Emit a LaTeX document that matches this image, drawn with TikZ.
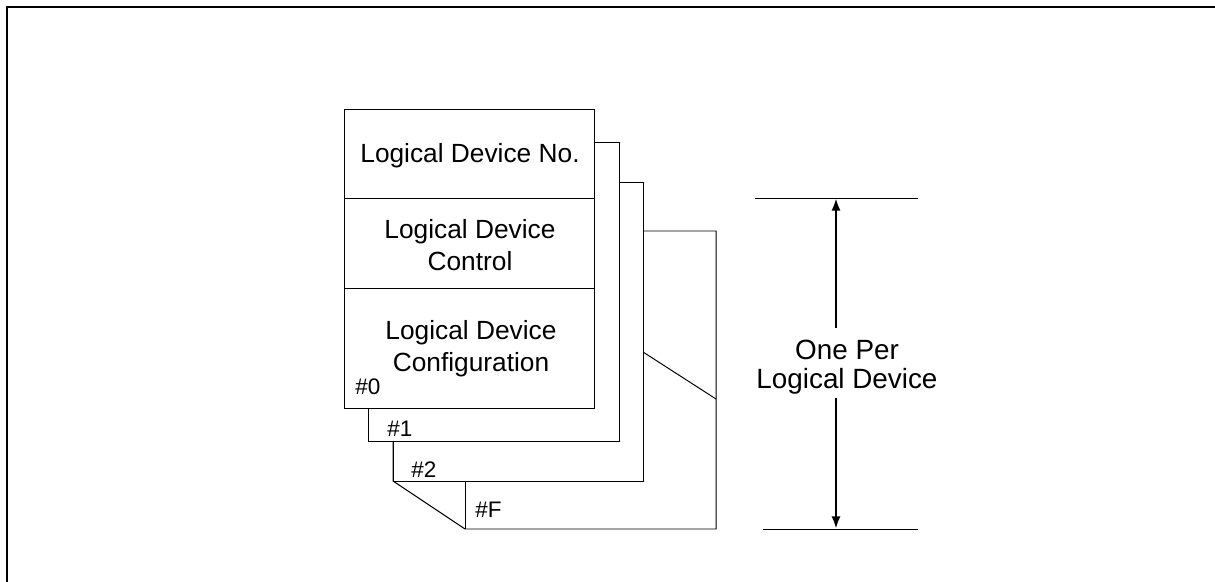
\documentclass[tikz,border=0pt]{standalone}
\usepackage{fontspec}
\setmainfont{Liberation Sans}
\usetikzlibrary{calc,arrows.meta}

\begin{document}
\begin{tikzpicture}[>={Latex[length=9pt,width=6.5pt]}, x=0.025cm, y=-0.025cm,
	card/.style={draw, fill=white, line width=0.7pt},
	big/.style={font=\fontsize{18.7}{22.8}\selectfont, align=center, inner sep=0pt},
	tag/.style={font=\fontsize{16}{18}\selectfont, anchor=base west, inner sep=0pt}]

	% fix the size of the picture
	\useasboundingbox (0,0) rectangle (1215,582);
	% outer frame, cut by the page edge
	\draw[line width=1.4pt] (1240,7) -- (7,7) -- (7,600);

	% last card, with its folded corner
	\coordinate (Ftl) at (393,231);
	\coordinate (Ftr) at (716,231);
	\coordinate (Fbr) at (716,529);
	\coordinate (Fbl) at (465,529);
	\coordinate (Ffold) at (393,481);
	\draw[card] (Ftl) -- (Ftr) -- (Fbr) -- (Fbl) -- (Ffold) -- cycle;
	\draw[line width=0.7pt] (Ffold) -- (465,481) -- (Fbl);
	\draw[line width=0.7pt] (643,352) -- (716,399);

	% cards #2 and #1
	\draw[card] (393,182) rectangle (643,481);
	\draw[card] (368,142) rectangle (619,441);

	% front card #0 and its three fields
	\coordinate (A) at (344,109);
	\coordinate (B) at (594,408);
	\draw[card] (A) rectangle (B);
	\draw[line width=0.7pt] (344,198) -- (594,198) (344,288) -- (594,288);
	\node[big] (no) at (470,156) {Logical Device No.};
	\node[big] (ctrl) at (470,245) {Logical Device\\Control};
	\node[big] (conf) at (471,349) {Logical Device\\Configuration};

	% card numbers
	\node[tag] (n0) at (355,395) {\#0};
	\node[tag] (n1) at (387,437) {\#1};
	\node[tag] (n2) at (411,477) {\#2};
	\node[tag] (nF) at (475,517) {\#F};

	% span marker on the right
	\coordinate (T) at (836,198);
	\coordinate (U) at (836,529);
	\draw[line width=0.7pt] (755,198) -- (918,198) (763,529) -- (918,529);
	\node[big, font=\fontsize{19.8}{20.6}\selectfont] (per) at (847,367) {One Per\\Logical Device};
	\draw[->, line width=2pt] (836,328) -- (T);
	\draw[->, line width=2pt] (836,398) -- (U);

\end{tikzpicture}
\end{document}
